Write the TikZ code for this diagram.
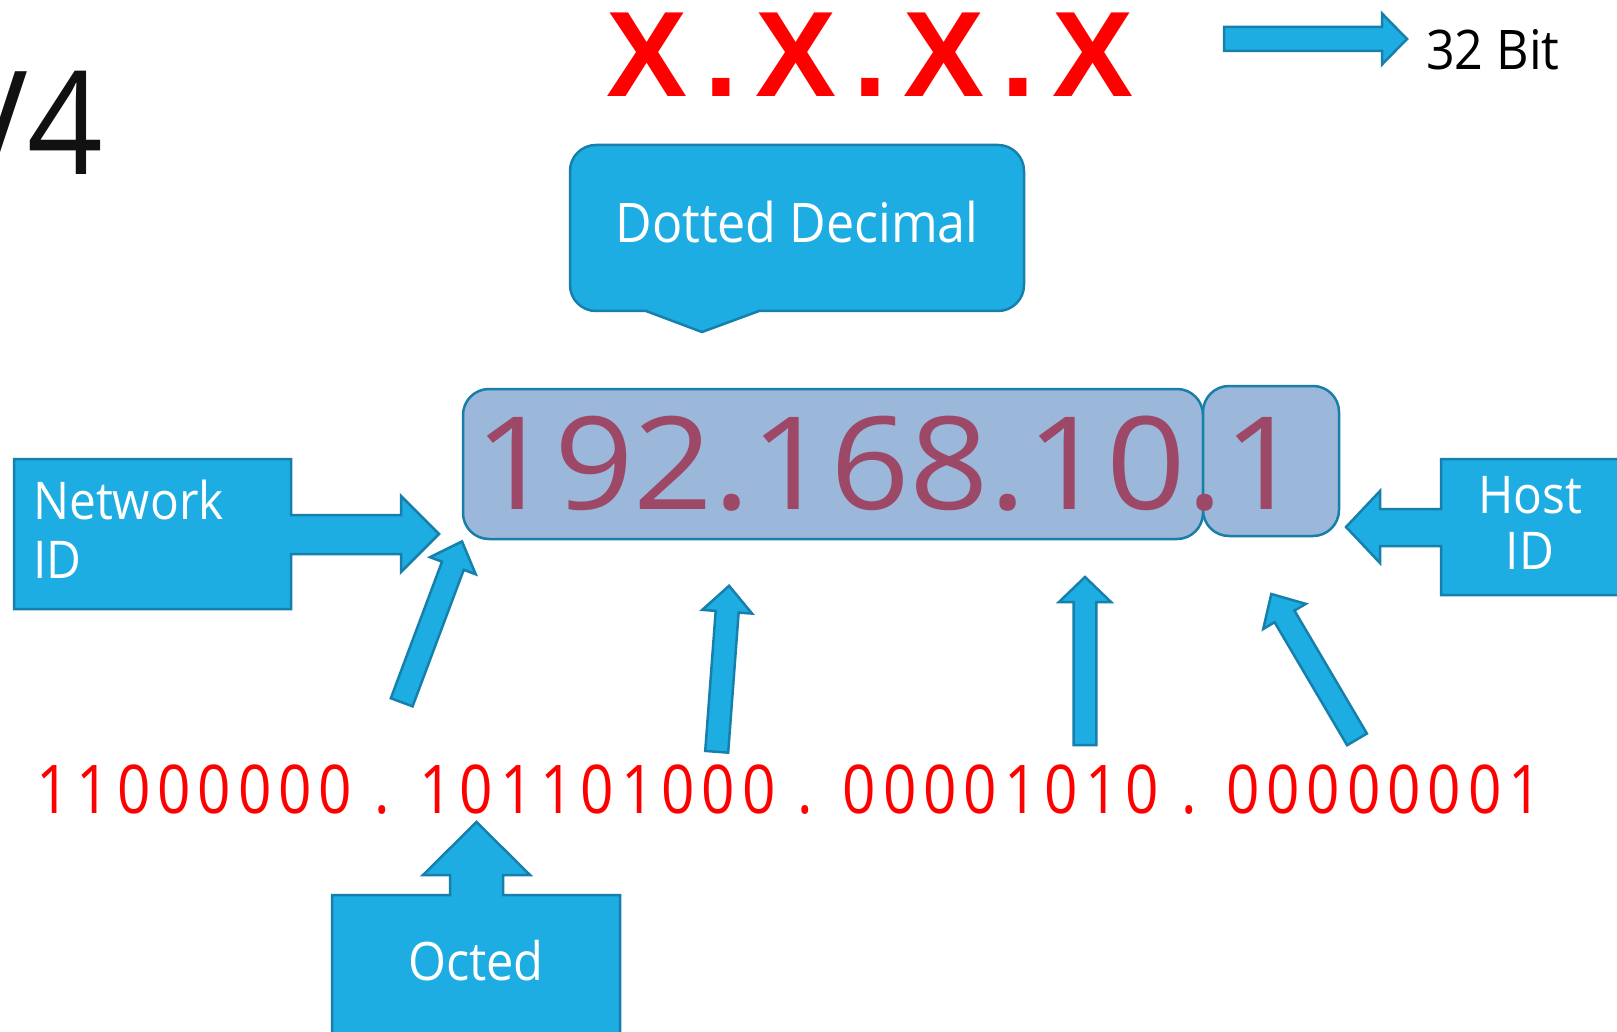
\documentclass[tikz,border=0pt]{standalone}
\usepackage{fontspec}
\usetikzlibrary{calc}
\setmainfont{Open Sans}[FakeStretch=0.92]
\newfontfamily\maskfont{Liberation Sans}[LetterSpace=14]
\newfontfamily\ipfont{Open Sans}[FakeStretch=1.08]
\newfontfamily\binfont{Open Sans}[FakeStretch=0.87,LetterSpace=10.3]

\definecolor{calloutblue}{RGB}{30,173,226}
\definecolor{calloutedge}{RGB}{22,128,172}
\definecolor{ipfill}{RGB}{155,183,218}
\definecolor{ipedge}{RGB}{26,127,168}
\definecolor{iptext}{RGB}{158,72,104}
\definecolor{bitred}{RGB}{255,0,0}

\tikzset{
  callout/.style={fill=calloutblue, draw=calloutedge, line width=2.5pt, line join=miter},
  ipbox/.style={fill=ipfill, draw=ipedge, line width=2.5pt, rounded corners=26pt},
  whitelabel/.style={text=white, inner sep=0pt, font=\fontsize{52}{58}\selectfont},
}

% block arrow: #1 tail, #2 tip, #3 shaft half width, #4 head half width, #5 head length
\newcommand\blockarrow[5]{%
  \path ($(#2)!#5!(#1)$) coordinate (neck);
  \draw[callout] ($(#1)!#3!90:(#2)$) -- ($(neck)!#3!-90:(#1)$)
    -- ($(neck)!#4!-90:(#1)$) -- (#2) -- ($(neck)!#4!90:(#1)$)
    -- ($(neck)!#3!90:(#1)$) -- ($(#1)!#3!-90:(#2)$) -- cycle;
}

\begin{document}
\begin{tikzpicture}[x=1pt, y=-1pt]
\useasboundingbox (0,0) rectangle (1617,1032);
\clip (0,0) rectangle (1617,1032);
\fill[white] (0,0) rectangle (1617,1032);

% heading, partly outside the page
\node[anchor=base east, inner sep=0pt, text={rgb,255:red,17;green,17;blue,17},
      font=\fontsize{144}{150}\selectfont] (title) at (103,175) {V4};

% address mask
\node[anchor=base, inner sep=0pt, text=bitred, font=\maskfont\bfseries\fontsize{121.5}{125}\selectfont]
  (mask) at (870,97) {X.X.X.X};

% 32 bit arrow and label
\coordinate (bittail) at (1224,39);
\coordinate (bittip) at (1407,39);
\blockarrow{bittail}{bittip}{12pt}{25.5pt}{25pt}
\node[anchor=base west, inner sep=0pt, font=\fontsize{54.6}{60}\selectfont] (bits) at (1426,70) {32 Bit};

% dotted decimal callout
\draw[callout] (646,311) -- (702,332) -- (759,311) -- (998,311) arc (90:0:26)
  -- (1024,171) arc (0:-90:26) -- (596,145) arc (-90:-180:26)
  -- (570,285) arc (180:90:26) -- cycle;
\node[whitelabel, anchor=base, font=\fontsize{54.6}{60}\selectfont] (dotted) at (797,243) {Dotted Decimal};

% address boxes
\draw[ipbox] (463,389) rectangle (1203,539);
\draw[ipbox] (1203,386) rectangle (1339,536);
\node[anchor=base, inner sep=0pt, text=iptext, font=\ipfont\fontsize{129}{135}\selectfont] (ip) at (888.5,509) {192.168.10.1};

% network id callout
\draw[callout] (14,459) -- (291,459) -- (291,515) -- (401,515) -- (401,496) -- (439,534)
  -- (401,572) -- (401,554) -- (291,554) -- (291,609) -- (14,609) -- cycle;
\node[whitelabel, anchor=base west, align=left, font=\fontsize{52}{59}\selectfont] (netid) at (33,578) {Network\\ID};

% host id callout
\draw[callout] (1622,459) -- (1441,459) -- (1441,509) -- (1380,509) -- (1380,491) -- (1346,527)
  -- (1380,563) -- (1380,546) -- (1441,546) -- (1441,595) -- (1622,595) -- cycle;
\node[whitelabel, anchor=base, align=center, font=\fontsize{52}{56}\selectfont] (hostid) at (1530,569) {Host\\ID};

% binary form
\node[anchor=base, inner sep=0pt, text=bitred, font=\binfont\fontsize{67.2}{70}\selectfont]
  (binary) at (789,813) {11000000 . 101101000 . 00001010 . 00000001};

% arrows from the octets up to the address
\coordinate (atail) at (401.7,702.3);  \coordinate (atip) at (462,541.4);
\coordinate (btail) at (716.7,751.8);  \coordinate (btip) at (729.1,585.8);
\coordinate (ctail) at (1085,745);     \coordinate (ctip) at (1085,577);
\coordinate (dtail) at (1357,739.4);   \coordinate (dtip) at (1271.3,594);
\blockarrow{atail}{atip}{11.6pt}{24.4pt}{26pt}
\blockarrow{btail}{btip}{11.5pt}{25pt}{26pt}
\blockarrow{ctail}{ctip}{11.3pt}{26pt}{25pt}
\blockarrow{dtail}{dtip}{11.5pt}{24.7pt}{26pt}

% octet callout
\draw[callout] (332,1040) -- (332,895) -- (450,895) -- (450,875) -- (423,875) -- (476.5,822)
  -- (530,875) -- (503,875) -- (503,895) -- (620,895) -- (620,1040) -- cycle;
\node[whitelabel, anchor=base, font=\fontsize{53}{58}\selectfont] (octet) at (476,980) {Octed};
\end{tikzpicture}
\end{document}
